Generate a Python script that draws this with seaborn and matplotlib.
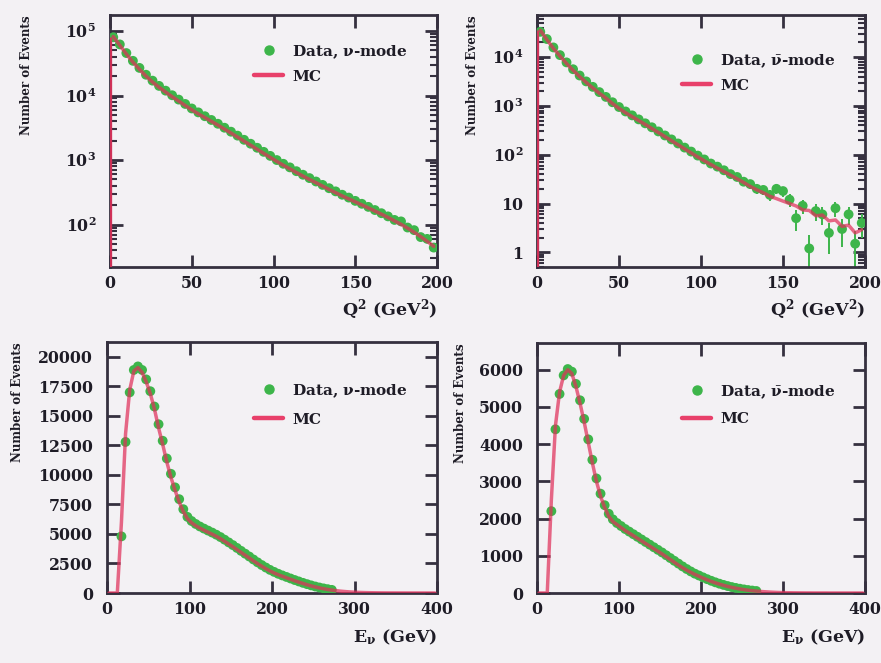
import numpy as np
import pandas as pd
import matplotlib
matplotlib.use("Agg")
import matplotlib.pyplot as plt
import seaborn as sns
from matplotlib.lines import Line2D
from matplotlib.ticker import FixedLocator, FixedFormatter, LogLocator, NullFormatter

# ---------------- data ----------------
q2_edges = np.arange(0, 201, 4)      # GeV^2 bins
e_edges = np.arange(0, 401, 5)       # GeV bins

q2_mc_nu = [82000, 60000, 44000, 33000, 25500, 20000, 16200, 13400, 11300, 9600,
            8200, 7000, 6000, 5200, 4550, 3980, 3480, 3020, 2620, 2270,
            1960, 1700, 1470, 1270, 1100, 955, 830, 730, 640, 565,
            500, 445, 395, 350, 312, 278, 250, 225, 202, 181,
            162, 145, 129, 114, 101, 88, 76, 65, 55, 46]
q2_data_nu = [80000, 62000, 45500, 34500, 26800, 21000, 17000, 14100, 11900, 10100,
              8650, 7400, 6300, 5480, 4780, 4180, 3650, 3170, 2750, 2390,
              2060, 1790, 1550, 1340, 1160, 1000, 875, 770, 672, 592,
              525, 465, 412, 366, 327, 290, 262, 233, 210, 188,
              168, 150, 134, 118, 112, 90, 82, 64, 60, 44]

q2_mc_nubar = [35500, 22900, 15100, 10500, 7400, 5370, 3980, 3020, 2340, 1820,
               1450, 1120, 890, 724, 603, 501, 417, 345, 285, 235,
               194, 160, 132, 109, 90, 75, 63, 53, 45, 38,
               32, 27, 22.4, 19.1, 16.6, 14.1, 12.6, 11.2, 10.0, 8.9,
               7.4, 7.2, 5.6, 5.8, 4.4, 4.6, 3.4, 3.6, 2.5, 2.9]
q2_data_nubar = [33000, 23500, 15800, 11000, 7800, 5650, 4200, 3180, 2460, 1920,
                 1530, 1190, 950, 770, 640, 530, 440, 365, 300, 248,
                 206, 170, 140, 116, 96, 80, 66, 57, 48, 40,
                 35, 28, 25, 20, 19, 15, 20, 18, 12, 5,
                 9, 1.2, 7, 6, 2.5, 8, 3, 6, 1.5, 4]

e_mc_nu = [0, 0, 0, 6000, 13500, 17200, 18800, 19100, 18700, 17900,
           16900, 15600, 14000, 12600, 11100, 9800, 8700, 7700, 6900, 6300,
           5950, 5700, 5500, 5320, 5150, 4980, 4800, 4600, 4380, 4150,
           3920, 3680, 3440, 3200, 2960, 2720, 2490, 2270, 2060, 1870,
           1700, 1550, 1420, 1290, 1160, 1040, 920, 810, 700, 600,
           510, 430, 360, 300, 245, 200, 160, 128, 100, 78,
           60, 46, 35, 27, 20, 15, 11, 8, 6, 5,
           4, 3, 2, 2, 1, 1, 1, 0, 0, 0]
e_data_nu = [0, 0, 0, 4800, 12800, 17000, 18900, 19200, 18900, 18100,
             17100, 15800, 14300, 12900, 11400, 10100, 8950, 7950, 7100, 6450,
             6100, 5850, 5640, 5460, 5290, 5120, 4940, 4740, 4520, 4290,
             4060, 3820, 3570, 3330, 3090, 2840, 2600, 2370, 2160, 1960,
             1790, 1630, 1490, 1360, 1230, 1100, 980, 860, 750, 645,
             550, 465, 390, 325, 265, 0, 0, 0, 0, 0,
             0, 0, 0, 0, 0, 0, 0, 0, 0, 0,
             0, 0, 0, 0, 0, 0, 0, 0, 0, 0]

e_mc_nubar = [0, 0, 0, 2500, 4500, 5400, 5850, 6000, 5900, 5550,
              5100, 4600, 4050, 3500, 3000, 2600, 2300, 2060, 1920, 1840,
              1760, 1680, 1610, 1540, 1470, 1400, 1330, 1260, 1190, 1120,
              1050, 975, 900, 825, 750, 680, 615, 555, 500, 450,
              400, 355, 312, 273, 238, 206, 177, 151, 128, 108,
              90, 75, 62, 51, 42, 34, 27, 21, 16, 12,
              9, 7, 5, 4, 3, 2, 2, 1, 1, 1,
              1, 0, 0, 0, 0, 0, 0, 0, 0, 0]
e_data_nubar = [0, 0, 0, 2200, 4400, 5350, 5850, 6020, 5950, 5620,
                5180, 4680, 4130, 3580, 3080, 2670, 2360, 2130, 1980, 1880,
                1800, 1720, 1650, 1580, 1510, 1440, 1370, 1300, 1230, 1160,
                1090, 1015, 940, 865, 790, 715, 645, 580, 520, 470,
                420, 372, 328, 287, 250, 217, 187, 160, 136, 115,
                96, 80, 66, 54, 0, 0, 0, 0, 0, 0,
                0, 0, 0, 0, 0, 0, 0, 0, 0, 0,
                0, 0, 0, 0, 0, 0, 0, 0, 0, 0]

legend_nu = r"Data, $\nu$-mode"
legend_nubar = r"Data, $\bar{\nu}$-mode"
legend_mc = "MC"
ylabel_text = "Number of Events"
xlabel_q2 = r"Q$^{2}$ (GeV$^{2}$)"
xlabel_e = r"E$_{\nu}$ (GeV)"

ticks_q2 = [0, 50, 100, 150, 200]
ticks_e = [0, 100, 200, 300, 400]
yt_tl = [1e2, 1e3, 1e4, 1e5]
yl_tl = [r"10$^{2}$", r"10$^{3}$", r"10$^{4}$", r"10$^{5}$"]
yt_tr = [1, 10, 1e2, 1e3, 1e4]
yl_tr = ["1", "10", r"10$^{2}$", r"10$^{3}$", r"10$^{4}$"]
yt_bl = [0, 2500, 5000, 7500, 10000, 12500, 15000, 17500, 20000]
yt_br = [0, 1000, 2000, 3000, 4000, 5000, 6000]

# ---------------- style ----------------
sns.set_style("ticks")
GREEN = "#3db54a"
RED = "#e0305a"
FRAME = "#35303f"
BG = "#f3f1f4"
TXT = "#1e1c26"
plt.rcParams["font.family"] = ["DejaVu Serif"]
plt.rcParams["font.weight"] = "bold"
plt.rcParams["mathtext.fontset"] = "dejavuserif"
plt.rcParams["mathtext.default"] = "bf"

fig = plt.figure(figsize=(8.81, 6.63), dpi=100, facecolor=BG)

W, H = 881.0, 663.0
def axes_px(l, t, r, b):
    return fig.add_axes([l / W, 1 - b / H, (r - l) / W, (b - t) / H])

panels = [
    dict(box=(110, 15, 437, 267), edges=q2_edges, mc=q2_mc_nu, data=q2_data_nu, log=True,
         xlim=(0, 200), ylim=(22, 1.77e5), xt=ticks_q2, yt=yt_tl, yl=yl_tl, leg=legend_nu,
         xlabel=xlabel_q2, ylab_x=27, xlab_y=310, leg_y=40, leg_sp=0.6),
    dict(box=(537, 15, 865, 267), edges=q2_edges, mc=q2_mc_nubar, data=q2_data_nubar, log=True,
         xlim=(0, 200), ylim=(0.5, 7.3e4), xt=ticks_q2, yt=yt_tr, yl=yl_tr, leg=legend_nubar,
         xlabel=xlabel_q2, ylab_x=472, xlab_y=310, leg_y=49, leg_sp=0.6),
    dict(box=(107, 342, 437, 593), edges=e_edges, mc=e_mc_nu, data=e_data_nu, log=False,
         xlim=(0, 400), ylim=(0, 21270), xt=ticks_e, yt=yt_bl, yl=[str(v) for v in yt_bl],
         leg=legend_nu, xlabel=xlabel_e, ylab_x=18, xlab_y=637, leg_y=52, leg_sp=0.85),
    dict(box=(537, 343, 865, 593), edges=e_edges, mc=e_mc_nubar, data=e_data_nubar, log=False,
         xlim=(0, 400), ylim=(0, 6720), xt=ticks_e, yt=yt_br, yl=[str(v) for v in yt_br],
         leg=legend_nubar, xlabel=xlabel_e, ylab_x=460, xlab_y=637, leg_y=52, leg_sp=0.75),
]

for p in panels:
    ax = axes_px(*p["box"])
    ax.set_facecolor(BG)
    e_arr = np.asarray(p["edges"], dtype=float)
    centers = 0.5 * (e_arr[:-1] + e_arr[1:])
    mc = np.asarray(p["mc"], dtype=float)
    data = np.asarray(p["data"], dtype=float)
    assert len(mc) == len(centers) and len(data) == len(centers)
    if p["log"]:
        ax.set_yscale("log")
    # data points with statistical error bars
    m = data > 0
    err = np.sqrt(data[m])
    lo = np.clip(data[m] - err, 1e-3, None)
    ax.vlines(centers[m], lo, data[m] + err, color=GREEN, lw=1.4, zorder=2)
    df_data = pd.DataFrame({"x": centers[m], "y": data[m]})
    sns.scatterplot(data=df_data, x="x", y="y", color=GREEN, s=50, edgecolor="none",
                    linewidth=0, ax=ax, zorder=3, legend=False)
    # MC prediction
    df_mc = pd.DataFrame({"x": centers, "w": mc})
    sns.lineplot(data=df_mc, x="x", y="w", color=RED, linewidth=2.5, alpha=0.72,
                 estimator=None, sort=False, ax=ax, zorder=4)
    if mc[0] > 0:
        ax.vlines(e_arr[0], p["ylim"][0], mc[0], color=RED, lw=2.4, alpha=0.9, zorder=4)
    ax.set_xlim(*p["xlim"])
    ax.set_ylim(*p["ylim"])
    ax.set_xlabel("")
    ax.set_ylabel("")
    ax.xaxis.set_major_locator(FixedLocator(p["xt"]))
    ax.yaxis.set_major_locator(FixedLocator(p["yt"]))
    ax.yaxis.set_major_formatter(FixedFormatter(p["yl"]))
    if p["log"]:
        ax.yaxis.set_minor_locator(LogLocator(base=10, subs=np.arange(2, 10)))
        ax.yaxis.set_minor_formatter(NullFormatter())
    for s in ax.spines.values():
        s.set_visible(True)
        s.set_color(FRAME)
        s.set_linewidth(2.0)
    ax.tick_params(which="major", direction="in", top=True, right=True, length=9,
                   width=2.0, color=FRAME, labelsize=11.3, labelcolor=TXT)
    ax.tick_params(axis="x", which="major", pad=6)
    ax.tick_params(axis="y", which="major", pad=10)
    ax.tick_params(which="minor", direction="in", top=True, right=True, length=5,
                   width=1.5, color=FRAME)
    l, t, r, b = p["box"]
    handles = [Line2D([], [], marker="o", ls="none", color=GREEN, ms=6.5),
               Line2D([], [], color="#e8406a", lw=3.2)]
    anchor_x = (r - 29 - l) / (r - l)
    anchor_y = 1 - (p["leg_y"] - 12) / (b - t)
    ax.legend(handles, [p["leg"], legend_mc], loc="upper right", frameon=False,
              bbox_to_anchor=(anchor_x, anchor_y),
              fontsize=11, handlelength=1.9, handletextpad=0.6, labelspacing=p["leg_sp"],
              borderaxespad=0.0, borderpad=0.0, labelcolor=TXT)
    fig.text(p["ylab_x"] / W, 1 - t / H, ylabel_text, rotation=90, ha="center", va="top",
             fontsize=8.6, color=TXT)
    fig.text(r / W, 1 - p["xlab_y"] / H, p["xlabel"], ha="right", va="center",
             fontsize=12.5, color=TXT)

fig.savefig("out.png", dpi=100, facecolor=BG)
